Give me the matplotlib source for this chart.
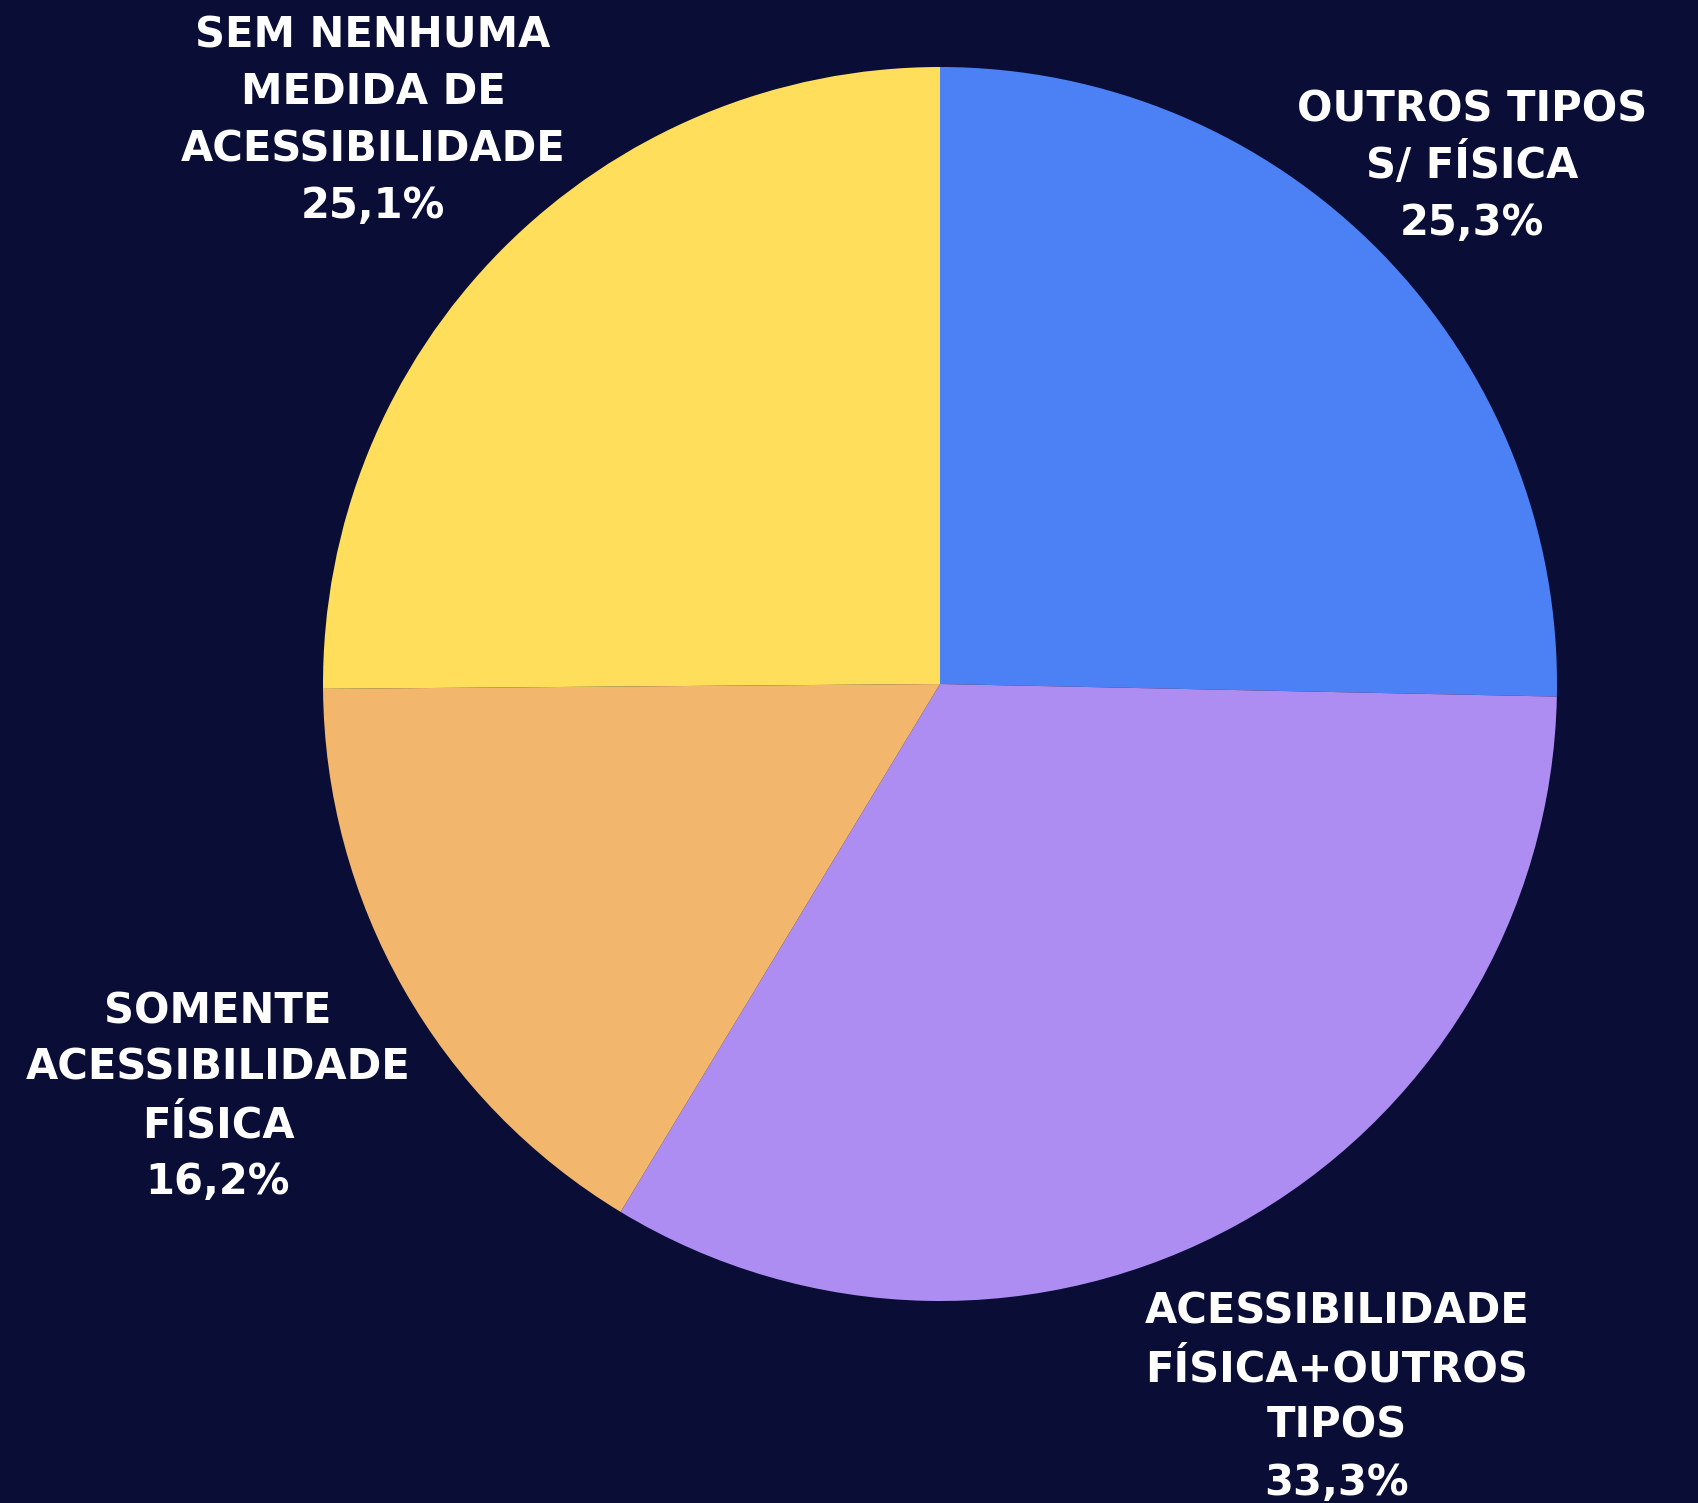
import matplotlib
matplotlib.use("Agg")
import matplotlib.pyplot as plt

# Data
categories = [
    "OUTROS TIPOS\nS/ FÍSICA",
    "ACESSIBILIDADE\nFÍSICA+OUTROS\nTIPOS",
    "SOMENTE\nACESSIBILIDADE\nFÍSICA",
    "SEM NENHUMA\nMEDIDA DE\nACESSIBILIDADE",
]
values = [25.3, 33.3, 16.2, 25.1]
value_labels = ["25,3%", "33,3%", "16,2%", "25,1%"]
colors = ["#4B81F5", "#AE8DF2", "#F2B76C", "#FFDE5B"]

BG = "#0A0D35"
W, H = 1699, 1503

fig = plt.figure(figsize=(W / 100, H / 100), dpi=100, facecolor=BG)
ax = fig.add_axes([0, 0, 1, 1])
ax.set_facecolor(BG)

cx, cy_px, r = 940, 684, 617
ax.pie(values, colors=colors, startangle=90, counterclock=False,
       center=(cx, H - cy_px), radius=r, frame=True,
       wedgeprops=dict(linewidth=0, antialiased=True))
ax.set_xlim(0, W)
ax.set_ylim(0, H)
ax.set_aspect("equal")
ax.axis("off")

# label anchor positions (center x, baseline of first line in px from top)
label_pos = [(1472, 121), (1337, 1324), (218, 1023), (373, 47)]
line_step = 57
font = dict(family=["DejaVu Sans"], fontweight="bold", fontsize=30, color="white")

for cat, vl, (x, y0) in zip(categories, value_labels, label_pos):
    lines = cat.split("\n") + [vl]
    for i, ln in enumerate(lines):
        ax.text(x, H - (y0 + i * line_step), ln, ha="center", va="baseline", **font)

fig.savefig("out.png", dpi=100, facecolor=BG)
